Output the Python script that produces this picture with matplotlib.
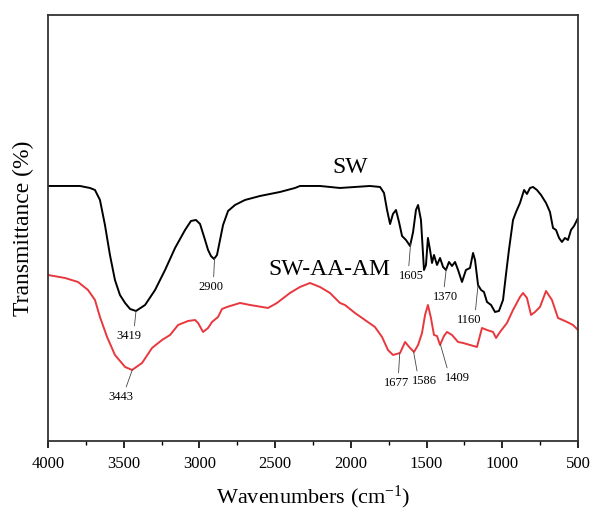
import numpy as np
import matplotlib
matplotlib.use("Agg")
import matplotlib.pyplot as plt
from matplotlib.ticker import MultipleLocator

# FTIR spectra, transmittance in arbitrary units (offset for display)
sw_wn = [4000, 3789, 3723, 3690, 3657, 3624, 3591, 3558, 3525, 3491, 3458, 3419,
         3359, 3293, 3227, 3161, 3095, 3056, 3023, 2996, 2963, 2943, 2924, 2904,
         2884, 2864, 2844, 2811, 2765, 2699, 2600, 2468, 2369, 2336, 2204, 2072,
         1973, 1874, 1807, 1781, 1761, 1741, 1722, 1702, 1682, 1662, 1636, 1609,
         1589, 1570, 1556, 1537, 1517, 1504, 1491, 1477, 1464, 1451, 1431, 1411,
         1391, 1372, 1352, 1332, 1312, 1292, 1266, 1240, 1213, 1193, 1180, 1160,
         1140, 1121, 1101, 1074, 1048, 1022, 995, 976, 956, 929, 909, 883, 856,
         837, 817, 797, 771, 744, 711, 685, 665, 645, 625, 606, 586, 566, 546,
         526, 500]
sw_t = [255, 255, 253, 251, 241, 216, 186, 161, 146, 138, 132, 130,
        136, 151, 171, 193, 211, 220, 221, 217, 201, 191, 185, 182,
        186, 201, 216, 230, 236, 241, 245, 249, 253, 255, 255, 253,
        254, 255, 254, 248, 231, 217, 227, 231, 219, 205, 201, 195,
        209, 231, 236, 221, 171, 176, 203, 191, 178, 186, 176, 183,
        174, 171, 179, 175, 179, 171, 159, 171, 173, 188, 181, 156,
        151, 149, 139, 136, 129, 130, 141, 166, 191, 221, 229, 238, 251,
        247, 253, 254, 251, 246, 238, 229, 213, 211, 203, 199, 203, 201, 211,
        215, 223]

am_wn = [4000, 3888, 3802, 3736, 3690, 3657, 3610, 3558, 3491, 3445, 3379, 3313,
         3247, 3194, 3141, 3075, 3029, 3009, 2976, 2943, 2917, 2877, 2851, 2818,
         2732, 2666, 2547, 2488, 2402, 2336, 2270, 2204, 2138, 2072, 2039, 1973,
         1907, 1841, 1794, 1755, 1722, 1675, 1642, 1609, 1583, 1556, 1530, 1510,
         1491, 1471, 1451, 1431, 1411, 1385, 1365, 1332, 1292, 1259, 1213, 1167,
         1134, 1101, 1061, 1041, 1015, 969, 929, 883, 863, 837, 810, 784, 751,
         711, 672, 632, 572, 533, 500]
am_t = [166, 163, 159, 151, 141, 124, 104, 86, 74, 71, 78, 93,
        101, 106, 116, 120, 121, 118, 109, 113, 119, 124, 132, 134,
        138, 136, 133, 138, 148, 154, 158, 154, 148, 138, 136, 128,
        121, 114, 104, 91, 86, 88, 99, 93, 89, 96, 108, 126,
        136, 123, 106, 105, 96, 105, 109, 106, 99, 98, 96, 94,
        113, 111, 109, 103, 109, 118, 131, 144, 148, 143, 126, 129, 134,
        150, 141, 123, 119, 116, 111]

# peak labels: (label, text x, text top y, line attach point on text)
sw_peaks = [("3419", 3465, 111, 0.7), ("2900", 2924, 160, 0.6),
            ("1605", 1603, 171, 0.4), ("1370", 1378, 150, 0.45),
            ("1160", 1220, 127, 0.75)]
am_peaks = [("3443", 3518, 50, 0.65), ("1677", 1695, 64, 0.55),
            ("1586", 1517, 66, 0.25), ("1409", 1299, 69, 0.15)]

plt.rcParams["font.family"] = ["Liberation Serif", "DejaVu Serif"]
plt.rcParams["mathtext.fontset"] = "custom"
plt.rcParams["mathtext.rm"] = "Liberation Serif"
plt.rcParams["mathtext.it"] = "Liberation Serif:italic"

fig = plt.figure(figsize=(5.95, 5.13), dpi=100)
ax = fig.add_axes([0.0807, 0.1404, 0.8907, 0.8304])

ax.plot(sw_wn, sw_t, color="black", lw=1.4)
ax.plot(am_wn, am_t, color="#e8383d", lw=1.4)

def label_peaks(peaks, wn, t):
    x = np.array(wn[::-1], dtype=float)
    y = np.array(t[::-1], dtype=float)
    for lab, tx, ty, rp in peaks:
        px = float(lab)
        py = np.interp(px, x, y)
        ax.annotate(lab, xy=(px, py), xytext=(tx, ty), ha="center", va="top",
                    fontsize=9,
                    arrowprops=dict(arrowstyle="-", lw=0.6, color="#444444",
                                    relpos=(rp, 1.0), shrinkA=1, shrinkB=0))

label_peaks(sw_peaks, sw_wn, sw_t)
label_peaks(am_peaks, am_wn, am_t)

ax.text(2006, 273, "SW", fontsize=17, ha="center", va="center")
ax.text(2547, 171, "SW-AA-AM", fontsize=17, ha="left", va="center")

ax.set_xlim(4000, 500)
ax.set_ylim(0, 426)
ax.xaxis.set_major_locator(MultipleLocator(500))
ax.xaxis.set_minor_locator(MultipleLocator(250))
ax.tick_params(axis="x", which="major", direction="out", length=5, width=1.2,
               labelsize=12, top=False, pad=6)
ax.tick_params(axis="x", which="minor", direction="out", length=3, width=1.0,
               top=False)
ax.set_yticks([])
for s in ax.spines.values():
    s.set_linewidth(1.3)
    s.set_color("#333333")

ax.set_xlabel(r"Wavenumbers (cm$^{\mathrm{-1}}$)", fontsize=16, labelpad=8)
ax.set_ylabel("Transmittance (%)", fontsize=17, labelpad=10)

fig.savefig("out.png", dpi=100)
